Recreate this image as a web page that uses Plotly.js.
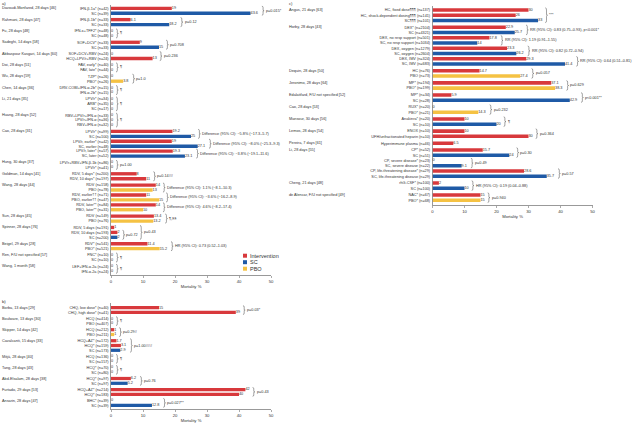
<!DOCTYPE html>
<html><head><meta charset="utf-8">
<script src="https://cdn.plot.ly/plotly-3.0.1.min.js"></script>
<style>html,body{margin:0;padding:0;background:#fff}#chart{width:640px;height:424px}</style>
</head><body><div id="chart"></div>
<script>
// ---------------- Panel a ----------------
const aStudies = ["Davoudi-Monfared, 28 days [46]","Rahmani, 28 days [47]","Fu, 28 days [48]","Sadeghi, 14 days [58]","Abbaspour Kasgari, 14 days [60]","Doi, 28 days [51]","Wu, 28 days [59]","Chen, 14 days [36]","Li, 21 days [35]","Huang, 28 days [52]","Cao, 28 days [31]","Hung, 30 days [37]","Goldman, 14 days [41]","Wang, 28 days [44]","Sun, 28 days [45]","Spinner, 28 days [76]","Beigel, 29 days [28]","Ren, F/U not specified [57]","Wang, 1 month [58]"];
const aArmCounts = [2,2,2,2,2,2,2,2,3,3,6,2,2,6,2,3,2,2,2];
const aArms = ["IFN-β-1a* (n=42)","SC (n=39)","IFN-β-1b* (n=33)","SC (n=33)","IFN-κ+TFF2* (n=48)","SC (n=48)","SOF+DCV* (n=33)","SC (n=33)","SOF+DCV+RBV (n=24)","HCQ+LPV/r+RBV (n=24)","FAV, early* (n=40)","FAV, late* (n=44)","TZP* (n=26)","PBO* (n=26)","DRV-COBI+IFN-α-2b* (n=15)","IFN-α-2b* (n=15)","LPV/r* (n=34)","ARB* (n=35)","SC (n=17)","RBV+LPV/r+IFN-α (n=33)","LPV/r+IFN-α (n=36)","RBV+IFN-α (n=32)","LPV/r* (n=99)","SC (n=100)","LPV/r, earlier* (n=42)","SC, earlier (n=48)","LPV/r, later* (n=57)","SC, later (n=52)","LPV/r+RBV+IFN-β-1b (n=86)","LPV/r* (n=41)","RDV, 5 days* (n=200)","RDV, 10 days* (n=197)","RDV (n=158)","PBO (n=78)","RDV, earlier†† (n=71)","PBO, earlier†† (n=47)","RDV, later** (n=84)","PBO, later** (n=31)","RDV (n=149)","PBO (n=76)","RDV, 5 days (n=191)","RDV, 10 days (n=193)","SC (n=200)","RDV* (n=541)","PBO* (n=521)","FNC* (n=10)","SC (n=10)","LEF+IFN-α-2a (n=24)","IFN-α-2a (n=24)"];
const aValues = [19.0,43.6,6.1,18.2,0,0,9,15,0,13,0,0,0,3.8,0,0,0,0,0,0,0,0,19.2,25,19,27.1,19.3,23.1,0,0,8,11,14,13,11,15,14,10,13.4,13.2,1,2,2,11.4,15.2,0,0,0,0];
const aTypes = ["I","SC","I","SC","I","SC","I","SC","I","I","I","I","I","PBO","I","I","I","I","SC","I","I","I","I","SC","I","SC","I","SC","I","I","I","I","I","PBO","I","PBO","I","PBO","I","PBO","I","I","SC","I","PBO","I","SC","I","I"];
const aBrFrom = [0,2,4,6,8,10,12,14,16,19,22,24,26,28,30,32,34,36,38,41,40,43,45,47];
const aBrTo   = [1,3,5,7,9,11,13,15,18,21,23,25,27,29,31,33,35,37,39,42,42,44,46,48];
const aBrText = ["p=0.015*","p=0.12","¶","p=0.708","p=0.236","¶","p=1.0","¶","¶","¶","Difference (95% CI): −5.8% (−17.3–5.7)","Difference (95% CI): −8.0% (−25.3–9.3)","Difference (95% CI): −3.8% (−19.1–11.6)","p=1.00","p=0.14##","Difference (95% CI): 1.1% (−8.1–10.3)","Difference (95% CI): −3.6% (−16.2–8.9)","Difference (95% CI): 4.6% (−8.2–17.4)","¶,§§","p=0.72","p=0.43","HR (95% CI): 0.73 (0.52–1.03)","¶","¶"];

// ---------------- Panel b ----------------
const bStudies = ["Borba, 13 days [29]","Boulware, 13 days [30]","Skipper, 14 days [42]","Cavalcanti, 15 days [33]","Mitjà, 28 days [40]","Tang, 28 days [43]","Abd-Elsalam, 28 days [38]","Furtado, 29 days [53]","Ansarin, 28 days [47]"];
const bArmCounts = [2,2,2,3,2,2,2,2,2];
const bArms = ["CHQ, low dose* (n=40)","CHQ, high dose* (n=41)","HCQ (n=414)","PBO (n=407)","HCQ (n=212)","PBO (n=211)","HCQ+AZ* (n=172)","HCQ* (n=159)","SC (n=173)","HCQ (n=136)","SC (n=157)","HCQ* (n=70)","SC (n=80)","HCQ* (n=97)","SC (n=97)","HCQ+AZ* (n=214)","HCQ* (n=183)","BHC* (n=39)","SC (n=39)"];
const bValues = [15,39,0,0,1,1,1.7,3.1,2.9,0,0,0,0,6.2,5.2,42,40,0,12.8];
const bTypes = ["I","I","I","PBO","I","PBO","I","I","SC","I","SC","I","SC","I","SC","I","I","I","SC"];
const bBrFrom = [0,2,4,6,9,11,13,15,17];
const bBrTo   = [1,3,5,8,10,12,14,16,18];
const bBrText = ["p=0.03*","¶","p=0.29#","p=1.00###","¶","¶","p=0.76","p=0.43","p=0.027**"];

// ---------------- Panel c ----------------
const cStudies = ["Angus, 21 days [63]","Horby, 28 days [43]","Dequin, 28 days [50]","Jeronimo, 28 days [64]","Edalatifard, F/U not specified [52]","Cao, 28 days [53]","Mansour, 30 days [56]","Lemos, 28 days [54]","Pereira, 7 days [61]","Li, 28 days [55]","Cheng, 21 days [48]","de Alencar, F/U not specified [49]"];
const cArmCounts = [3,8,2,2,2,2,2,2,1,6,2,2];
const cArms = ["HC, fixed dose¶¶¶ (n=137)","HC, shock-dependent dosing¶¶¶ (n=141)","SC¶¶¶ (n=101)","DEX* (n=2104)","SC (n=4321)","DEX, no resp support (n=501)","SC, no resp support (n=1034)","DEX, oxygen (n=1279)","SC, oxygen (n=2604)","DEX, IMV (n=324)","SC, IMV (n=683)","HC (n=76)","PBO (n=73)","MP* (n=194)","PBO* (n=199)","MP* (n=34)","SC (n=28)","RUX* (n=20)","PBO* (n=21)","Anakinra* (n=20)","SC (n=10)","ENOX (n=10)","UFH/unfractionated heparin (n=10)","Hyperimmune plasma (n=46)","CP* (n=52)","SC (n=51)","CP, severe disease* (n=23)","SC, severe disease (n=22)","CP, life-threatening disease* (n=29)","SC, life-threatening disease (n=29)","rhG-CSF* (n=100)","SC (n=100)","NAC* (n=67)","PBO* (n=68)"];
const cValues = [30,26,33,22.9,25.7,17.8,14,23.3,26.2,29.3,41.4,14.7,27.4,37.1,38.3,5.9,42.9,0,14.3,10,20,10,30,6.5,15.7,24,0,9.1,28.6,35.7,2,10,15,15];
const cTypes = ["I","I","SC","I","SC","I","SC","I","SC","I","SC","I","PBO","I","PBO","I","SC","I","PBO","I","SC","I","I","I","I","SC","I","SC","I","SC","I","SC","I","PBO"];
const cBrFrom = [0,3,5,7,9,11,13,15,17,19,21,24,26,28,30,32];
const cBrTo   = [2,4,6,8,10,12,14,16,18,20,22,25,27,29,31,33];
const cBrText = ["***","RR (95% CI): 0.83 (0.75–0.93), p<0.001*","RR (95% CI): 1.19 (0.91–1.55)","RR (95% CI): 0.82 (0.72–0.94)","RR (95% CI): 0.64 (0.51–0.81)","p=0.057","p=0.629","p<0.001**","p=0.232","¶","p=0.364","p=0.30","p=0.49","p=0.57","HR (95% CI): 0.19 (0.04–0.88)","p=0.940"];

const xTicks = [0,10,20,30,40,50];
const xTitle = "Mortality %";
const legendNames = ["Intervention","SC","PBO"];
const legendKeys = ["I","SC","PBO"];

// ---------------- styling / layout ----------------
const COL = {I:'#d8393c', SC:'#1f5aa6', PBO:'#f5c243'};
const W = 640, H = 424, GAP = 0.3, FS = 3.8, TXT = '#333', LINE = '#555';
const FONT = 'Liberation Sans, Arial, sans-serif';

const panels = [
  {tag:'a)', xa:'x', ya:'y', studies:aStudies, counts:aArmCounts, arms:aArms, values:aValues, types:aTypes, brFrom:aBrFrom, brTo:aBrTo, brText:aBrText,
   g:{x0:111, x1:271, top:5, bot:275, first:8.3, last:271.3, labelX:1, tagX:1, tagY:0}},
  {tag:'b)', xa:'x2', ya:'y2', studies:bStudies, counts:bArmCounts, arms:bArms, values:bValues, types:bTypes, brFrom:bBrFrom, brTo:bBrTo, brText:bBrText,
   g:{x0:111, x1:271, top:303, bot:409, first:307.7, last:405.3, labelX:1, tagX:1, tagY:298}},
  {tag:'c)', xa:'x3', ya:'y3', studies:cStudies, counts:cArmCounts, arms:cArms, values:cValues, types:cTypes, brFrom:cBrFrom, brTo:cBrTo, brText:cBrText,
   g:{x0:432.5, x1:592.5, top:6, bot:205, first:10, last:200.3, labelX:288, tagX:288, tagY:0}}
];

const traces = [], annotations = [], shapes = [];
const layout = {width:W, height:H, margin:{l:0,r:0,t:0,b:0}, paper_bgcolor:'#fff', plot_bgcolor:'rgba(0,0,0,0)',
  barmode:'overlay', showlegend:false, font:{family:FONT, color:TXT}};
const tw = s => String(s).length * FS * 0.55;

panels.forEach((p, pi) => {
  const ypos = [], firstRow = [];
  let r = 0;
  p.counts.forEach((c, g) => { firstRow.push(r + g*GAP); for (let k=0;k<c;k++){ ypos.push(r + g*GAP); r++; } });
  const maxY = ypos[ypos.length-1];
  const unit = (p.g.last - p.g.first) / maxY;
  const yTop = -(p.g.first - p.g.top) / unit;
  const yBot = maxY + (p.g.bot - p.g.last) / unit;
  const pxX = (p.g.x1 - p.g.x0) / 50;

  legendKeys.forEach(t => {
    const xs = [], ys = [];
    p.values.forEach((v,i) => { if (p.types[i] === t) { xs.push(v); ys.push(ypos[i]); } });
    traces.push({type:'bar', orientation:'h', x:xs, y:ys, width:0.68, marker:{color:COL[t], line:{width:0}},
      xaxis:p.xa, yaxis:p.ya, showlegend:false, hoverinfo:'skip'});
  });
  traces.push({type:'scatter', mode:'text', x:p.values, y:ypos, text:p.values.map(v=>String(v)),
    textposition:'middle right', textfont:{size:FS, color:TXT, family:FONT}, xaxis:p.xa, yaxis:p.ya,
    showlegend:false, hoverinfo:'skip', cliponaxis:false});

  const sfx = pi ? String(pi+1) : '';
  layout['xaxis'+sfx] = {domain:[p.g.x0/W, p.g.x1/W], anchor:p.ya, range:[0,50], tickvals:xTicks, ticks:'outside',
    ticklen:2, tickwidth:0.5, tickcolor:LINE, showline:true, linecolor:LINE, linewidth:0.6, showgrid:false, zeroline:false,
    tickfont:{size:4.2, color:TXT}, title:{text:xTitle, font:{size:4.2, color:TXT}, standoff:2}, fixedrange:true};
  layout['yaxis'+sfx] = {domain:[1-p.g.bot/H, 1-p.g.top/H], anchor:p.xa, range:[yBot, yTop], tickvals:ypos, ticktext:p.arms,
    ticks:'', showline:true, linecolor:LINE, linewidth:0.6, showgrid:false, zeroline:false,
    tickfont:{size:FS, color:TXT}, ticklabelstandoff:1, fixedrange:true};

  p.studies.forEach((s,g) => annotations.push({xref:'paper', yref:p.ya, x:p.g.labelX/W, y:firstRow[g], xanchor:'left', yanchor:'middle',
    text:s, showarrow:false, font:{size:FS, color:TXT}, borderpad:0}));
  annotations.push({xref:'paper', yref:'paper', x:p.g.tagX/W, y:1-p.g.tagY/H, xanchor:'left', yanchor:'top', text:p.tag,
    showarrow:false, font:{size:4.2, color:TXT}, borderpad:0});

  // brackets
  const order = p.brFrom.map((_,i)=>i).sort((a,b)=>(p.brTo[a]-p.brFrom[a])-(p.brTo[b]-p.brFrom[b]));
  const endPx = {};
  order.forEach(i => {
    const f = p.brFrom[i], t = p.brTo[i];
    let mx = 0, start = 0;
    for (let k=f;k<=t;k++){ mx = Math.max(mx, p.values[k]); start = Math.max(start, p.values[k]*pxX + 2 + tw(p.values[k]) + 1); }
    Object.keys(endPx).forEach(j => { if (p.brFrom[j]>=f && p.brTo[j]<=t) start = Math.max(start, endPx[j] + 2); });
    const off = start - mx*pxX, w = 2.2, m = off + w*0.55;
    const y0 = ypos[f]-0.42, y1 = ypos[t]+0.42, ym = (ypos[f]+ypos[t])/2, h = y1-y0;
    const path = `M${off},${y0} Q${m},${y0} ${m},${y0+h*0.15} L${m},${ym-h*0.08} Q${m},${ym} ${off+w},${ym} Q${m},${ym} ${m},${ym+h*0.08} L${m},${y1-h*0.15} Q${m},${y1} ${off},${y1}`;
    shapes.push({type:'path', xref:p.xa, yref:p.ya, xsizemode:'pixel', xanchor:mx, path:path, line:{color:'#444', width:0.5}});
    annotations.push({xref:p.xa, yref:p.ya, x:mx, y:ym, xanchor:'left', yanchor:'middle', xshift:off + w + 0.8,
      text:p.brText[i], showarrow:false, font:{size:FS, color:TXT}, borderpad:0});
    endPx[i] = start + w + 0.8 + tw(p.brText[i]);
  });
});

// manual legend
const legY = [255.7, 262.2, 268.7];
legendKeys.forEach((k,i) => {
  shapes.push({type:'rect', xref:'paper', yref:'paper', x0:243/W, x1:247/W, y0:1-(legY[i]+2)/H, y1:1-(legY[i]-2)/H,
    fillcolor:COL[k], line:{width:0}});
  annotations.push({xref:'paper', yref:'paper', x:248.5/W, y:1-legY[i]/H, xanchor:'left', yanchor:'middle', text:legendNames[i],
    showarrow:false, font:{size:5.5, color:TXT}, borderpad:0});
});

layout.annotations = annotations;
layout.shapes = shapes;
Plotly.newPlot('chart', traces, layout, {displayModeBar:false, staticPlot:true});
</script>
</body></html>
